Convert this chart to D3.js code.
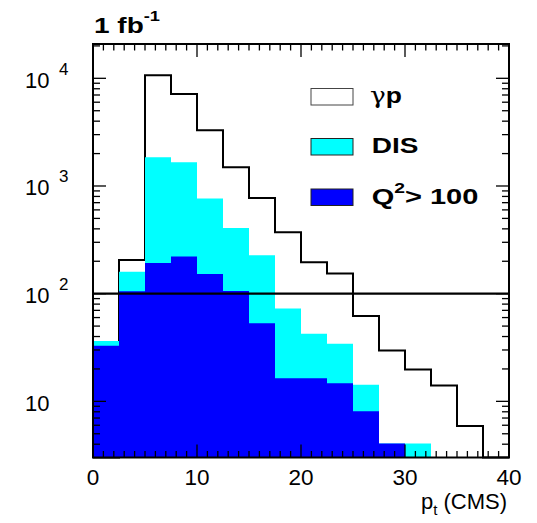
<!DOCTYPE html>
<html><head><meta charset="utf-8">
<script src="https://cdn.jsdelivr.net/npm/d3@7"></script>
<style>body{margin:0;background:#fff} svg{display:block} text{font-family:"Liberation Sans",Arial,Helvetica,sans-serif;fill:#000}</style>
</head><body><svg id="c" width="537" height="523"></svg>
<script>
// ---- data ----
const binLow = [0,2.5,5,7.5,10,12.5,15,17.5,20,22.5,25,27.5,30,32.5,35,37.5];
const binWidth = 2.5;
const gammaP = [0, 205, 10660, 7150, 3290, 1490, 774, 372, 196, 154, 62, 29.7, 19.8, 14, 5.9, 0];
const dis    = [36.3, 160, 1850, 1660, 764, 408, 228, 73, 42.4, 34.3, 14.3, 4.07, 4.07, 0, 0, 0];
const q2     = [32.8, 105.6, 193, 222, 152, 106, 53, 16.4, 16.4, 14.7, 8.1, 4.07, 0, 0, 0, 0];
const xTickValues = [0, 10, 20, 30, 40];
const xTickLabels = ["0", "10", "20", "30", "40"];
const yTickValues = [10, 100, 1000, 10000];
const yTickBase = ["10", "10", "10", "10"];
const yTickExp = ["", "2", "3", "4"];
const refLine = 100;
const legendColors = ["#ffffff", "#00ffff", "#0000ff"];

// ---- layout ----
const L = 93, R = 509, T = 44, B = 457.5;
const svg = d3.select("#c");
const x = d3.scaleLinear().domain([0, 40]).range([L, R]);
const y = d3.scaleLog().domain([3.01, 20830]).range([B, T]).clamp(true);
const yv = v => (v <= y.domain()[0] ? B : y(v));

function stepPath(vals) {
  const pts = [[x(binLow[0]), B]];
  vals.forEach((v, i) => {
    pts.push([x(binLow[i]), yv(v)]);
    pts.push([x(binLow[i] + binWidth), yv(v)]);
  });
  pts.push([x(binLow[binLow.length - 1] + binWidth), B]);
  return d3.line()(pts);
}

const plot = svg.append("g");
plot.append("path").attr("d", stepPath(gammaP)).attr("fill", "#fff").attr("stroke", "#000").attr("stroke-width", 2);
plot.append("path").attr("d", stepPath(dis)).attr("fill", "#00ffff").attr("stroke", "none");
plot.append("path").attr("d", stepPath(q2)).attr("fill", "#0000ff").attr("stroke", "none");

// reference line at 100
svg.append("line").attr("x1", L).attr("x2", R).attr("y1", y(refLine)).attr("y2", y(refLine))
  .attr("stroke", "#000").attr("stroke-width", 2.2);

// ---- axes ticks ----
const tk = svg.append("g").attr("stroke", "#000").attr("stroke-width", 1.3);
d3.range(0, 41, 1).forEach(v => {
  const major = xTickValues.includes(v);
  const len = major ? 13 : 6.5;
  tk.append("line").attr("x1", x(v)).attr("x2", x(v)).attr("y1", B).attr("y2", B - len);
  tk.append("line").attr("x1", x(v)).attr("x2", x(v)).attr("y1", T).attr("y2", T + len);
});
const yTicksAll = [];
[1, 10, 100, 1000, 10000].forEach(d => {
  for (let k = 1; k <= 9; k++) {
    const v = k * d;
    if (v >= y.domain()[0] && v <= y.domain()[1]) yTicksAll.push({ v, major: k === 1 });
  }
});
yTicksAll.forEach(t => {
  const len = t.major ? 13 : 7;
  tk.append("line").attr("x1", L).attr("x2", L + len).attr("y1", y(t.v)).attr("y2", y(t.v));
  tk.append("line").attr("x1", R).attr("x2", R - len).attr("y1", y(t.v)).attr("y2", y(t.v));
});
svg.append("rect").attr("x", L).attr("y", T).attr("width", R - L).attr("height", B - T)
  .attr("fill", "none").attr("stroke", "#000").attr("stroke-width", 2);

// x tick labels
xTickValues.forEach((v, i) => {
  svg.append("text").attr("x", x(v)).attr("y", 485).attr("text-anchor", "middle")
    .attr("font-size", 22.5).text(xTickLabels[i]);
});
// y tick labels
yTickValues.forEach((v, i) => {
  svg.append("text").attr("x", 25).attr("y", y(v) + 9.5).attr("font-size", 22).text(yTickBase[i]);
  if (yTickExp[i]) {
    svg.append("text").attr("x", 59).attr("y", y(v) - 3.5).attr("font-size", 17).text(yTickExp[i]);
  }
});

// x axis title
const xt = svg.append("text").attr("x", 507).attr("y", 509).attr("text-anchor", "end").attr("font-size", 22);
xt.append("tspan").text("p");
xt.append("tspan").attr("font-size", 15).attr("dy", 6).text("t");
xt.append("tspan").attr("dy", -6).text(" (CMS)");

// helper: stretch a bold label horizontally to a target width
function fitWidth(g, left, width) {
  const bb = g.node().getBBox();
  const sx = width / bb.width;
  g.attr("transform", `translate(${left},0) scale(${sx},1) translate(${-bb.x},0)`);
}

// lumi label
const lg = svg.append("g");
const lt = lg.append("text").attr("x", 0).attr("y", 33.5).attr("font-size", 23).attr("font-weight", "bold");
lt.append("tspan").text("1 fb");
lt.append("tspan").attr("font-size", 15).attr("dy", -12).text("-1");
fitWidth(lg, 94, 66);

// legend
const legY = [88.5, 138.5, 189];
const legW = [32, 46.7, 106.7];
legY.forEach((ly, i) => {
  svg.append("rect").attr("x", 311).attr("y", ly).attr("width", 42).attr("height", 16.5)
    .attr("fill", legendColors[i]).attr("stroke", i === 0 ? "#444" : "#222").attr("stroke-width", 1);
  const g = svg.append("g");
  const t = g.append("text").attr("x", 0).attr("y", ly + 15).attr("font-size", 22.5).attr("font-weight", "bold");
  if (i === 0) {
    t.append("tspan").attr("font-family", "'DejaVu Serif','Liberation Serif',serif").attr("font-weight", "normal").text("γ");
    t.append("tspan").text("p");
  } else if (i === 1) {
    t.append("tspan").text("DIS");
  } else {
    t.append("tspan").text("Q");
    t.append("tspan").attr("font-size", 15).attr("dy", -11).text("2");
    t.append("tspan").attr("dy", 11).text("> 100");
  }
  fitWidth(g, i === 0 ? 370 : 371.7, legW[i]);
});
</script></body></html>
